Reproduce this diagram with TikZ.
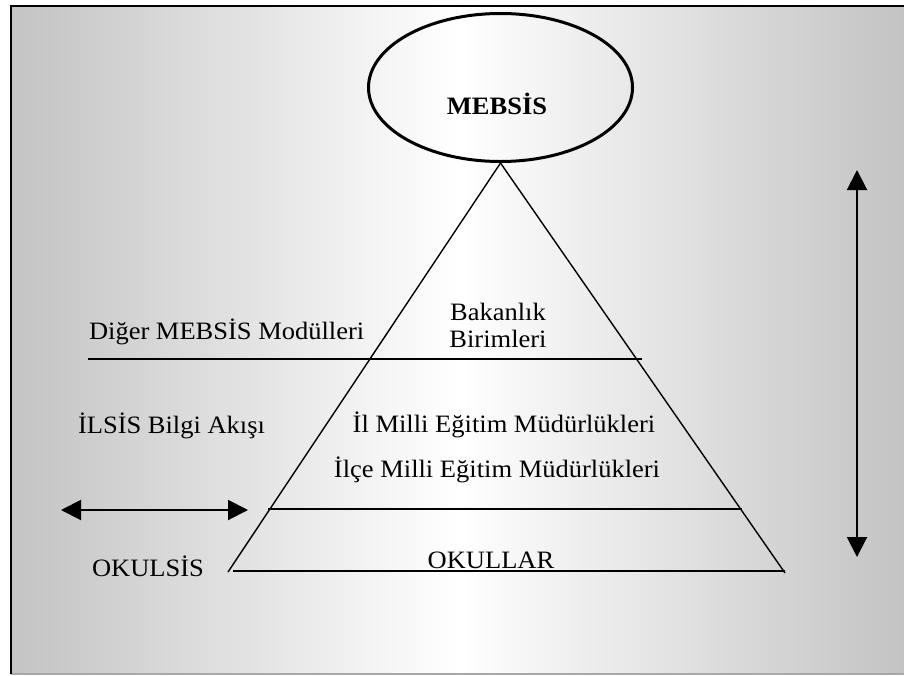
\documentclass[tikz,border=0pt]{standalone}
\usepackage{fontspec}
\setmainfont{Liberation Serif}[FakeStretch=1.06]
\usetikzlibrary{arrows.meta,shapes.geometric}
\definecolor{bgg}{gray}{0.765}
\definecolor{bottomgray}{gray}{0.66}
\tikzset{
  lbl/.style={inner sep=0pt, outer sep=0pt, font=\fontsize{25}{29}\selectfont},
  edge/.style={line width=1.4pt, black},
  level/.style={line width=1.8pt, black},
  dblarrow/.style={line width=2pt, {Triangle[length=20pt,width=20pt]}-{Triangle[length=20pt,width=20pt]}},
}
\begin{document}
\begin{tikzpicture}[x=1pt,y=-1pt]
\useasboundingbox (0,0) rectangle (904,675);
% background panel
\shade[left color=bgg, right color=bgg, middle color=white] (11,6) rectangle (904,674);
\draw[bottomgray, line width=1.2pt] (11,674) -- (904,674);
\draw[black, line width=2.3pt] (11,674) -- (11,6) -- (904,6);
% ellipse
\node[ellipse, draw, line width=3pt, minimum width=264pt, minimum height=148pt, inner sep=0pt] (ell) at (500.5,87.5) {};
\node[lbl, anchor=base, font=\fontsize{25}{29}\selectfont\bfseries] (mebsis) at (497,114) {MEBSİS};
% triangle
\coordinate (bl) at (228,572);
\coordinate (br) at (785,573);
\coordinate (bs) at (233,571);
\coordinate (be) at (785,571);
\draw[edge] (ell.south) -- (bl);
\draw[edge] (ell.south) -- (br);
\draw[edge, line width=1.5pt] (bs) -- (be);
% level lines
\coordinate (l1a) at (88,359);
\coordinate (l1b) at (642,359);
\coordinate (l2a) at (268,509);
\coordinate (l2b) at (742,509);
\draw[level] (l1a) -- (l1b);
\draw[level] (l2a) -- (l2b);
% arrows
\coordinate (hl) at (61,510);
\coordinate (hr) at (248,510);
\draw[dblarrow] (hl) -- (hr);
\coordinate (vt) at (857,170);
\coordinate (vb) at (857,557);
\draw[dblarrow] (vt) -- (vb);
% labels
\node[lbl, anchor=base] (bak) at (498,320) {Bakanlık};
\node[lbl, anchor=base] (bir) at (498,347) {Birimleri};
\node[lbl, anchor=base west] (diger) at (89,339) {Diğer MEBSİS Modülleri};
\node[lbl, anchor=base west] (ilsis) at (78,433) {İLSİS Bilgi Akışı};
\node[lbl, anchor=base] (il) at (504,432) {İl Milli Eğitim Müdürlükleri};
\node[lbl, anchor=base] (ilce) at (497,477) {İlçe Milli Eğitim Müdürlükleri};
\node[lbl, anchor=base west] (okulsis) at (92,576) {OKULSİS};
\node[lbl, anchor=base] (okullar) at (491,568) {OKULLAR};
\end{tikzpicture}
\end{document}
